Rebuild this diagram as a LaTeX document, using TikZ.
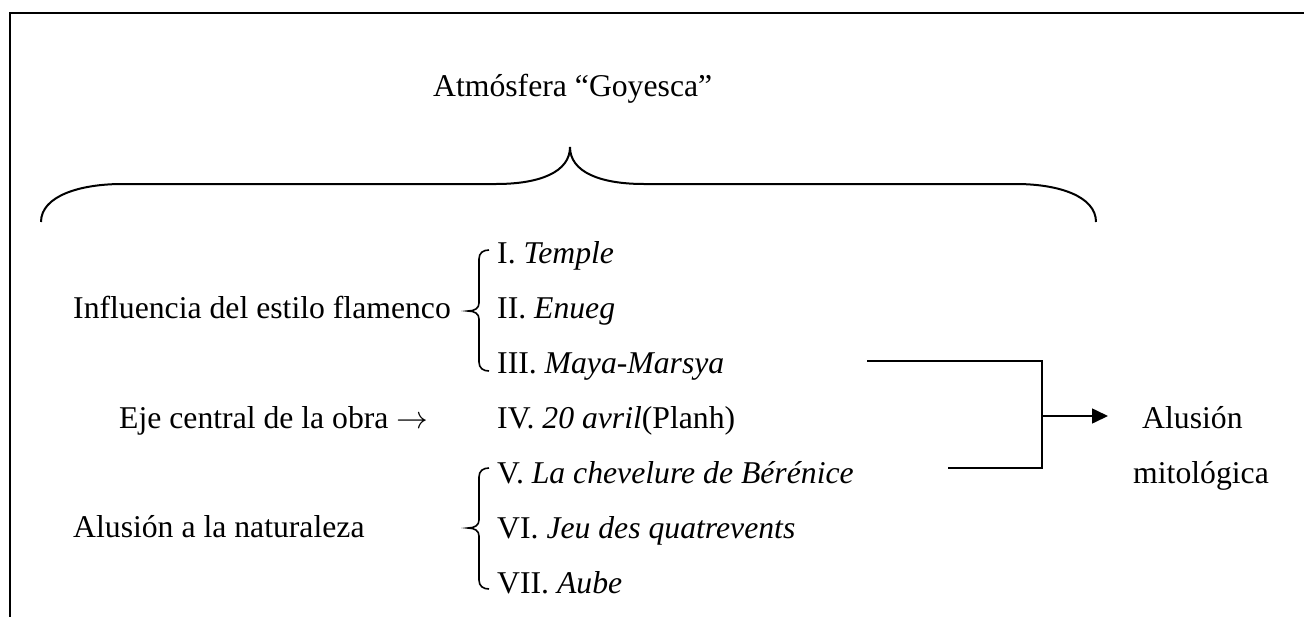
\documentclass[tikz,border=0pt]{standalone}
\usepackage{fix-cm}
\usepackage{fontspec}
\setmainfont{Liberation Serif}
\usetikzlibrary{arrows.meta}
\tikzset{
  txt/.style={anchor=base west, inner sep=0pt, font=\fontsize{31.7}{38}\selectfont},
  frame/.style={line width=2pt, line cap=rect},
  bigbrace/.style={line width=2pt},
  smallbrace/.style={line width=1.6pt},
  conn/.style={line width=1.6pt},
}
\begin{document}
\begin{tikzpicture}[x=1pt,y=-1pt]
\useasboundingbox (0,0) rectangle (1304,616);
% frame (only left and top edges visible)
\draw[frame] (10,620) -- (10,13) -- (1310,13);
% title
\node[txt] (title) at (433,96) {Atmósfera “Goyesca”};
% big brace
\draw[bigbrace] (41,222) .. controls (41,196) and (80,184) .. (122,184)
  -- (496,184) .. controls (540,184) and (570,172) .. (570,147)
  .. controls (570,172) and (600,184) .. (644,184)
  -- (1016,184) .. controls (1058,184) and (1096,196) .. (1096,222);
% left labels
\node[txt] (infl) at (73,318) {Influencia del estilo flamenco};
\node[txt] (eje) at (119,428) {Eje central de la obra $\rightarrow$};
\node[txt] (nat) at (73,537) {Alusión a la naturaleza};
% items
\node[txt] (i1) at (497,263) {I. \textit{Temple}};
\node[txt] (i2) at (497,318) {II. \textit{Enueg}};
\node[txt] (i3) at (497,373) {III. \textit{Maya-Marsya}};
\node[txt] (i4) at (497,428) {IV. \textit{20 avril}(Planh)};
\node[txt] (i5) at (497,483) {V. \textit{La chevelure de Bérénice}};
\node[txt] (i6) at (497,538) {VI. \textit{Jeu des quatrevents}};
\node[txt] (i7) at (497,593) {VII. \textit{Aube}};
% small braces
\draw[smallbrace] (489,250) .. controls (483,250) and (479,253) .. (479,259)
  -- (479,303) .. controls (479,308) and (475,311) .. (468,311)
  .. controls (475,311) and (479,314) .. (479,319)
  -- (479,362) .. controls (479,368) and (483,371) .. (489,371);
\draw[smallbrace] (489,468) .. controls (483,468) and (479,471) .. (479,477)
  -- (479,520) .. controls (479,525) and (475,528) .. (468,528)
  .. controls (475,528) and (479,531) .. (479,536)
  -- (479,580) .. controls (479,586) and (483,589) .. (489,589);
% right label
\node[txt] (alu) at (1142,428) {Alusión};
\node[txt] (mit) at (1133,483) {mitológica};
% connectors
\coordinate (t1) at (867,361);
\coordinate (j1) at (1042,361);
\coordinate (b1) at (948,468);
\coordinate (j2) at (1042,468);
\coordinate (jm) at (1042,416);
\coordinate (ah) at (1108,416);
\draw[conn] (t1) -- (j1) -- (j2) -- (b1);
\draw[conn, -{Triangle[length=16pt,width=15pt]}] (jm) -- (ah);
\end{tikzpicture}
\end{document}
